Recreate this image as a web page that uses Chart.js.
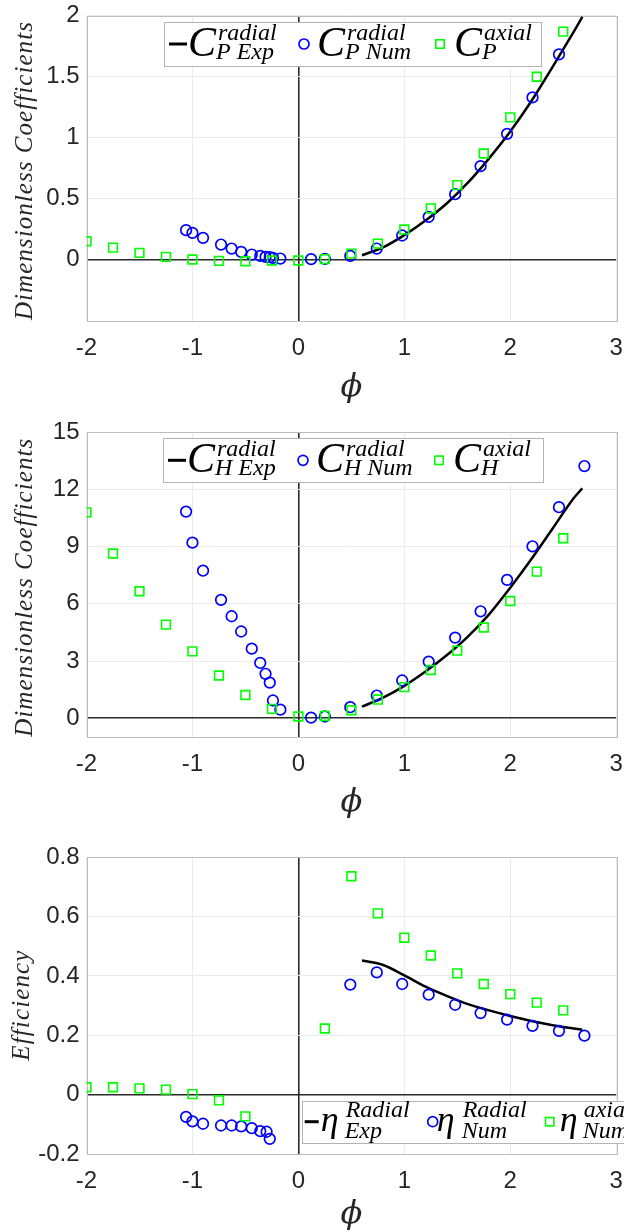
<!DOCTYPE html>
<html><head><meta charset="utf-8">
<script src="https://cdn.jsdelivr.net/npm/chart.js@4/dist/chart.umd.min.js"></script>
<style>
html,body{margin:0;padding:0;background:#fff;width:624px;height:1232px;overflow:hidden;}
canvas{position:absolute;left:0;}
</style></head><body>
<canvas id="c1" width="624" height="410" style="top:0px"></canvas>
<canvas id="c2" width="624" height="415" style="top:410px"></canvas>
<canvas id="c3" width="624" height="407" style="top:825px"></canvas>
<script>
// ---------- DATA ----------
const xTicks = [-2, -1, 0, 1, 2, 3];
const pTicks = [0, 0.5, 1, 1.5, 2];
const hTicks = [0, 3, 6, 9, 12, 15];
const eTicks = [-0.2, 0, 0.2, 0.4, 0.6, 0.8];

// flow coefficient phi of the numerical radial points
const radNumPhi = [-1.06, -1.0, -0.9, -0.73, -0.63, -0.54, -0.44, -0.36, -0.31, -0.27, -0.24, -0.17, 0.12, 0.25, 0.49, 0.74, 0.98, 1.23, 1.48, 1.72, 1.97, 2.21, 2.46];
const radNumPhiH = [-1.06, -1.0, -0.9, -0.73, -0.63, -0.54, -0.44, -0.36, -0.31, -0.27, -0.24, -0.17, 0.12, 0.25, 0.49, 0.74, 0.98, 1.23, 1.48, 1.72, 1.97, 2.21, 2.46, 2.70];
const radNumPhiE = [-1.06, -1.0, -0.9, -0.73, -0.63, -0.54, -0.44, -0.36, -0.30, -0.27, 0.49, 0.74, 0.98, 1.23, 1.48, 1.72, 1.97, 2.21, 2.46, 2.70];
const axialPhi = [-2, -1.75, -1.5, -1.25, -1, -0.75, -0.5, -0.25, 0, 0.25, 0.5, 0.75, 1, 1.25, 1.5, 1.75, 2, 2.25, 2.5];
const axialPhiE = [-2, -1.75, -1.5, -1.25, -1, -0.75, -0.5, 0.25, 0.5, 0.75, 1, 1.25, 1.5, 1.75, 2, 2.25, 2.5];
const expPhi = [0.6, 0.8, 1.0, 1.2, 1.4, 1.6, 1.8, 2.0, 2.2, 2.4, 2.6, 2.68];

// power coefficient
const cpRadExp = [0.035, 0.10, 0.20, 0.32, 0.46, 0.63, 0.83, 1.05, 1.30, 1.58, 1.87, 1.99];
const cpRadNum = [0.241, 0.219, 0.178, 0.123, 0.090, 0.063, 0.041, 0.030, 0.022, 0.019, 0.014, 0.008, 0.003, 0.005, 0.030, 0.090, 0.197, 0.350, 0.536, 0.766, 1.031, 1.330, 1.683];
const cpAxial = [0.150, 0.098, 0.055, 0.022, 0.0, -0.011, -0.014, -0.008, -0.008, 0.003, 0.049, 0.131, 0.246, 0.419, 0.610, 0.870, 1.166, 1.499, 1.869];

// head coefficient
const chRadExp = [0.61, 1.08, 1.70, 2.45, 3.30, 4.28, 5.45, 6.85, 8.35, 9.95, 11.55, 12.06];
const chRadNum = [10.84, 9.21, 7.74, 6.21, 5.35, 4.55, 3.65, 2.90, 2.33, 1.87, 0.93, 0.45, 0.03, 0.09, 0.58, 1.19, 1.98, 2.97, 4.23, 5.61, 7.26, 9.02, 11.07, 13.23];
const chAxial = [10.80, 8.64, 6.66, 4.91, 3.51, 2.24, 1.22, 0.49, 0.09, 0.12, 0.42, 0.98, 1.63, 2.53, 3.55, 4.76, 6.15, 7.69, 9.44];

// efficiency
const effRadExp = [0.452, 0.437, 0.402, 0.364, 0.333, 0.305, 0.284, 0.265, 0.248, 0.234, 0.223, 0.219];
const effRadNum = [-0.075, -0.090, -0.098, -0.104, -0.104, -0.107, -0.113, -0.123, -0.125, -0.149, 0.371, 0.412, 0.373, 0.337, 0.303, 0.275, 0.253, 0.232, 0.215, 0.199];
const effAxial = [0.025, 0.025, 0.021, 0.017, 0.002, -0.019, -0.073, 0.223, 0.736, 0.611, 0.529, 0.469, 0.409, 0.373, 0.339, 0.310, 0.284];

// legend labels
const legendP = [{main: 'C', sup: 'radial', sub: 'P Exp'}, {main: 'C', sup: 'radial', sub: 'P Num'}, {main: 'C', sup: 'axial', sub: 'P'}];
const legendH = [{main: 'C', sup: 'radial', sub: 'H Exp'}, {main: 'C', sup: 'radial', sub: 'H Num'}, {main: 'C', sup: 'axial', sub: 'H'}];
const legendE = [{main: 'η', sup: 'Radial', sub: 'Exp'}, {main: 'η', sup: 'Radial', sub: 'Num'}, {main: 'η', sup: 'axial', sub: 'Num'}];
const yTitleC = 'Dimensionless Coefficients';
const yTitleE = 'Efficiency';
const xTitle = 'ϕ';

// ---------- HELPERS ----------
const pts = (xs, ys) => xs.map((x, i) => ({x: x, y: ys[i]}));
const TXT = '#262626';
const SERIF = '"Liberation Serif", serif';

function datasets(axX, axY, numX, numY, expX, expY) {
  return [
    {label: 'axial', data: pts(axX, axY), showLine: false, pointStyle: 'rect', pointRadius: 6.2, pointBorderWidth: 1.6,
     borderColor: '#00ff00', backgroundColor: 'rgba(0,0,0,0)', pointBackgroundColor: 'rgba(0,0,0,0)', pointBorderColor: '#00ff00'},
    {label: 'num', data: pts(numX, numY), showLine: false, pointStyle: 'circle', pointRadius: 5.3, pointBorderWidth: 1.7,
     borderColor: '#0000ff', backgroundColor: 'rgba(0,0,0,0)', pointBackgroundColor: 'rgba(0,0,0,0)', pointBorderColor: '#0000ff'},
    {label: 'exp', data: pts(expX, expY), showLine: true, pointRadius: 0, borderColor: '#000', borderWidth: 2.5,
     cubicInterpolationMode: 'monotone', fill: false}
  ];
}

function gridOpts() {
  return {
    drawTicks: false,
    color: c => (c.tick && c.tick.value === 0) ? '#2b2b2b' : '#ebebeb',
    lineWidth: c => (c.tick && c.tick.value === 0) ? 1.6 : 1
  };
}

function xScale(h) {
  return {
    type: 'linear', min: -2, max: 3,
    afterBuildTicks: s => { s.ticks = xTicks.map(v => ({value: v})); },
    afterFit: s => { s.height = h; s.paddingLeft = 0; s.paddingRight = 0; },
    ticks: {font: {family: 'Liberation Sans', size: 24}, color: TXT, padding: 13, maxRotation: 0, autoSkip: false, callback: v => String(v)},
    grid: gridOpts(), border: {display: false}
  };
}
function yScale(min, max, ticks) {
  return {
    type: 'linear', min: min, max: max,
    afterBuildTicks: s => { s.ticks = ticks.map(v => ({value: v})); },
    afterFit: s => { s.width = 86.5; s.paddingTop = 0; s.paddingBottom = 0; },
    ticks: {font: {family: 'Liberation Sans', size: 24}, color: TXT, padding: 7, autoSkip: false, callback: v => String(v)},
    grid: gridOpts(), border: {display: false}
  };
}

const boxPlugin = {
  id: 'box',
  beforeDatasetsDraw(chart) {
    const a = chart.chartArea, ctx = chart.ctx;
    ctx.save();
    ctx.strokeStyle = '#bdbdbd'; ctx.lineWidth = 1;
    ctx.strokeRect(Math.round(a.left) + 0.5, Math.round(a.top) + 0.5, Math.round(a.right - a.left), Math.round(a.bottom - a.top));
    ctx.restore();
  }
};

const titlesPlugin = {
  id: 'titles',
  afterDraw(chart, args, o) {
    const ctx = chart.ctx, a = chart.chartArea;
    ctx.save();
    ctx.fillStyle = TXT;
    ctx.font = o.yFont;
    ctx.textAlign = 'center'; ctx.textBaseline = 'alphabetic';
    const w0 = ctx.measureText(o.yText).width;
    const sp = Math.max(0.3, (o.yLength - w0) / Math.max(1, o.yText.length - 1));
    ctx.letterSpacing = sp.toFixed(2) + 'px';
    ctx.translate(o.yX, (a.top + a.bottom) / 2 + o.yShift);
    ctx.rotate(-Math.PI / 2);
    ctx.fillText(o.yText, sp / 2, 0);
    ctx.setTransform(1, 0, 0, 1, 0, 0);
    ctx.letterSpacing = '0px';
    ctx.font = o.xFont; ctx.textBaseline = 'middle';
    ctx.fillText(o.xText, (a.left + a.right) / 2, a.bottom + o.xDy);
    ctx.restore();
  }
};

const mathLegendPlugin = {
  id: 'mathLegend',
  afterDraw(chart, args, o) {
    const ctx = chart.ctx;
    ctx.save();
    ctx.fillStyle = '#fff';
    ctx.fillRect(o.left, o.top, o.width, o.height);
    ctx.strokeStyle = '#b4b4b4'; ctx.lineWidth = 1;
    ctx.strokeRect(Math.round(o.left) + 0.5, Math.round(o.top) + 0.5, Math.round(o.width), Math.round(o.height));
    const sy = o.top + o.symY;
    o.items.forEach((it, i) => {
      const lay = o.layout[i];
      const sx = o.left + lay.sym;
      if (i === 0) {
        ctx.strokeStyle = '#000'; ctx.lineWidth = 3;
        ctx.beginPath(); ctx.moveTo(sx - lay.len / 2, sy); ctx.lineTo(sx + lay.len / 2, sy); ctx.stroke();
      } else if (i === 1) {
        ctx.strokeStyle = '#0000ff'; ctx.lineWidth = 1.7;
        ctx.beginPath(); ctx.arc(sx, sy, 5, 0, Math.PI * 2); ctx.stroke();
      } else {
        ctx.strokeStyle = '#00ff00'; ctx.lineWidth = 1.6;
        ctx.strokeRect(sx - 4.2, sy - 4.2, 8.4, 8.4);
      }
      ctx.fillStyle = '#000'; ctx.textAlign = 'left'; ctx.textBaseline = 'alphabetic';
      ctx.font = o.mainFont;
      ctx.fillText(it.main, o.left + lay.main, o.top + o.mainY);
      ctx.font = o.scriptFont;
      ctx.fillText(it.sup, o.left + lay.sup, o.top + o.supY);
      ctx.fillText(it.sub, o.left + lay.sub, o.top + o.subY);
    });
    ctx.restore();
  }
};

const cLayout = [{sym: 14, len: 18, main: 24, sup: 54, sub: 52}, {sym: 140, main: 153, sup: 183, sub: 181}, {sym: 276, main: 290, sup: 320, sub: 318}];
const eLayout = [{sym: 10, len: 14, main: 19, sup: 44, sub: 43}, {sym: 131, main: 135, sup: 161, sub: 160}, {sym: 248, main: 258, sup: 282, sub: 281}];

function makeChart(id, cfg) {
  return new Chart(document.getElementById(id), {
    type: 'scatter',
    data: {datasets: cfg.datasets},
    options: {
      responsive: false, maintainAspectRatio: false, animation: false, devicePixelRatio: 1,
      layout: {padding: {top: cfg.padTop, left: 0, right: 5.5, bottom: 0}},
      scales: {x: xScale(cfg.xH), y: yScale(cfg.yMin, cfg.yMax, cfg.yTicks)},
      plugins: {
        legend: {display: false}, tooltip: {enabled: false},
        titles: cfg.titles,
        mathLegend: cfg.legend
      }
    },
    plugins: [boxPlugin, titlesPlugin, mathLegendPlugin]
  });
}

function build() {
  makeChart('c1', {
    datasets: datasets(axialPhi, cpAxial, radNumPhi, cpRadNum, expPhi, cpRadExp),
    padTop: 15.7, xH: 410 - 320.5, yMin: -0.5, yMax: 2, yTicks: pTicks,
    titles: {yText: yTitleC, yFont: 'italic 25px ' + SERIF, yX: 32, yLength: 298, yShift: 3,
             xText: xTitle, xFont: 'italic 32px "DejaVu Serif"', xDy: 67},
    legend: {left: 164, top: 22, width: 377, height: 44, symY: 22, mainY: 34, supY: 18, subY: 37,
             mainFont: 'italic 42px ' + SERIF, scriptFont: 'italic 24px ' + SERIF,
             items: legendP, layout: cLayout}
  });
  makeChart('c2', {
    datasets: datasets(axialPhi, chAxial, radNumPhiH, chRadNum, expPhi, chRadExp),
    padTop: 22.3, xH: 415 - 327.3, yMin: -1, yMax: 15, yTicks: hTicks,
    titles: {yText: yTitleC, yFont: 'italic 25px ' + SERIF, yX: 32, yLength: 298, yShift: 3,
             xText: xTitle, xFont: 'italic 32px "DejaVu Serif"', xDy: 65},
    legend: {left: 163, top: 28.3, width: 380, height: 44, symY: 22, mainY: 34, supY: 18, subY: 37,
             mainFont: 'italic 42px ' + SERIF, scriptFont: 'italic 24px ' + SERIF,
             items: legendH, layout: cLayout}
  });
  makeChart('c3', {
    datasets: datasets(axialPhiE, effAxial, radNumPhiE, effRadNum, expPhi, effRadExp),
    padTop: 32.3, xH: 407 - 329, yMin: -0.2, yMax: 0.8, yTicks: eTicks,
    titles: {yText: yTitleE, yFont: 'italic 25px ' + SERIF, yX: 29, yLength: 110, yShift: 0,
             xText: xTitle, xFont: 'italic 32px "DejaVu Serif"', xDy: 61},
    legend: {left: 301.7, top: 275.7, width: 377, height: 42.3, symY: 21, mainY: 30, supY: 16, subY: 37,
             mainFont: 'italic 36px ' + SERIF, scriptFont: 'italic 24px ' + SERIF,
             items: legendE, layout: eLayout}
  });
}
if (document.fonts && document.fonts.load) {
  Promise.all([
    document.fonts.load('italic 24px "Liberation Serif"'),
    document.fonts.load('24px "Liberation Sans"'),
    document.fonts.load('italic 32px "DejaVu Serif"')
  ]).then(build, build);
} else { build(); }
</script>
</body></html>
